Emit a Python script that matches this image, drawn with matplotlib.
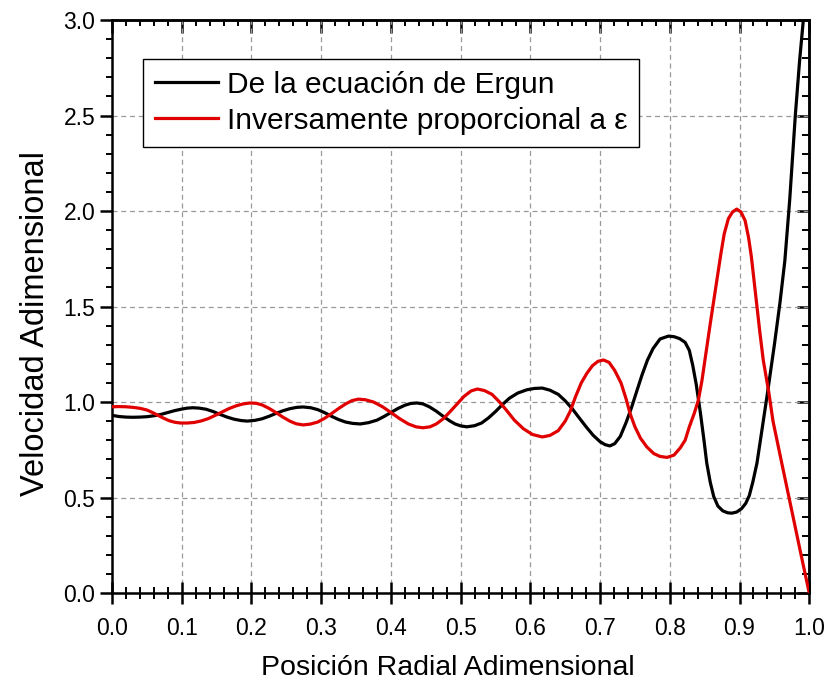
import numpy as np
import matplotlib
matplotlib.use("Agg")
import matplotlib.pyplot as plt
from matplotlib.ticker import MultipleLocator, FormatStrFormatter

plt.rcParams['font.family'] = ['Liberation Sans', 'DejaVu Sans']

# Ergun curve
x_ergun = [0.000, 0.010, 0.020, 0.030, 0.040, 0.050, 0.060, 0.070, 0.080, 0.090,
           0.100, 0.108, 0.116, 0.125, 0.135, 0.145, 0.155, 0.165, 0.175, 0.185,
           0.194, 0.205, 0.215, 0.225, 0.235, 0.245, 0.255, 0.265, 0.274, 0.285,
           0.295, 0.305, 0.315, 0.325, 0.335, 0.345, 0.356, 0.368, 0.380, 0.390,
           0.400, 0.410, 0.420, 0.428, 0.437, 0.446, 0.455, 0.465, 0.475, 0.484,
           0.492, 0.500, 0.509, 0.520, 0.530, 0.540, 0.550, 0.560, 0.570, 0.582,
           0.595, 0.606, 0.617, 0.628, 0.640, 0.650, 0.660, 0.670, 0.680, 0.690,
           0.700, 0.707, 0.714, 0.721, 0.729, 0.737, 0.745, 0.752, 0.760, 0.768,
           0.776, 0.786, 0.798, 0.806, 0.814, 0.822, 0.828, 0.833, 0.838, 0.844,
           0.849, 0.853, 0.858, 0.863, 0.869, 0.876, 0.883, 0.889, 0.896, 0.903,
           0.909, 0.914, 0.919, 0.925, 0.932, 0.940, 0.950, 0.958, 0.965, 0.972,
           0.980, 0.986, 0.992, 1.000]
y_ergun = [0.930, 0.924, 0.921, 0.920, 0.921, 0.923, 0.928, 0.935, 0.945, 0.955,
           0.963, 0.968, 0.970, 0.968, 0.962, 0.950, 0.935, 0.921, 0.910, 0.903,
           0.900, 0.904, 0.912, 0.925, 0.940, 0.954, 0.965, 0.972, 0.974, 0.970,
           0.960, 0.944, 0.925, 0.908, 0.895, 0.888, 0.885, 0.892, 0.905, 0.924,
           0.945, 0.966, 0.983, 0.992, 0.995, 0.990, 0.975, 0.952, 0.925, 0.902,
           0.885, 0.875, 0.870, 0.876, 0.890, 0.917, 0.950, 0.987, 1.020, 1.047,
           1.064, 1.071, 1.073, 1.062, 1.040, 1.006, 0.965, 0.917, 0.870, 0.826,
           0.792, 0.777, 0.770, 0.782, 0.820, 0.890, 0.970, 1.050, 1.140, 1.220,
           1.280, 1.330, 1.345, 1.342, 1.332, 1.312, 1.270, 1.190, 1.090, 0.940,
           0.800, 0.680, 0.580, 0.505, 0.455, 0.430, 0.420, 0.418, 0.424, 0.442,
           0.470, 0.510, 0.580, 0.680, 0.850, 1.045, 1.300, 1.520, 1.740, 2.060,
           2.500, 2.780, 3.020, 3.400]

# inversely proportional to porosity
x_inv = [0.000, 0.010, 0.020, 0.030, 0.040, 0.050, 0.058, 0.066, 0.074, 0.082,
         0.090, 0.098, 0.108, 0.118, 0.128, 0.138, 0.148, 0.158, 0.168, 0.178,
         0.188, 0.198, 0.207, 0.215, 0.225, 0.235, 0.245, 0.255, 0.264, 0.274,
         0.284, 0.295, 0.305, 0.315, 0.325, 0.335, 0.344, 0.353, 0.363, 0.375,
         0.388, 0.400, 0.412, 0.425, 0.436, 0.446, 0.456, 0.465, 0.475, 0.485,
         0.495, 0.505, 0.515, 0.524, 0.534, 0.545, 0.555, 0.565, 0.577, 0.590,
         0.603, 0.617, 0.628, 0.640, 0.650, 0.657, 0.665, 0.673, 0.681, 0.689,
         0.697, 0.705, 0.713, 0.721, 0.730, 0.737, 0.743, 0.750, 0.758, 0.767,
         0.777, 0.786, 0.796, 0.806, 0.815, 0.822, 0.828, 0.835, 0.841, 0.846,
         0.852, 0.858, 0.863, 0.868, 0.873, 0.878, 0.884, 0.890, 0.896, 0.902,
         0.908, 0.913, 0.917, 0.921, 0.925, 0.929, 0.934, 0.942, 0.948, 0.960,
         0.975, 0.990, 1.000]
y_inv = [0.975, 0.976, 0.975, 0.972, 0.967, 0.958, 0.945, 0.930, 0.915, 0.902,
         0.894, 0.890, 0.890, 0.893, 0.901, 0.913, 0.930, 0.948, 0.966, 0.980,
         0.990, 0.995, 0.993, 0.985, 0.967, 0.945, 0.921, 0.900, 0.886, 0.880,
         0.884, 0.895, 0.915, 0.940, 0.966, 0.990, 1.007, 1.015, 1.012, 1.000,
         0.975, 0.945, 0.914, 0.885, 0.870, 0.865, 0.870, 0.885, 0.912, 0.950,
         0.990, 1.030, 1.058, 1.068, 1.060, 1.040, 1.003, 0.960, 0.905, 0.860,
         0.830, 0.817, 0.825, 0.850, 0.900, 0.950, 1.030, 1.100, 1.150, 1.190,
         1.213, 1.220, 1.207, 1.165, 1.100, 1.020, 0.940, 0.870, 0.810, 0.765,
         0.730, 0.715, 0.710, 0.722, 0.760, 0.800, 0.870, 0.940, 1.010, 1.110,
         1.260, 1.410, 1.530, 1.650, 1.770, 1.880, 1.960, 1.995, 2.010, 1.995,
         1.950, 1.860, 1.760, 1.630, 1.500, 1.370, 1.220, 1.050, 0.900, 0.690,
         0.430, 0.170, 0.000]

fig = plt.figure(figsize=(8.3, 6.85), dpi=100)
ax = fig.add_axes([0.135, 0.1343, 0.840, 0.8365])

ax.plot(x_ergun, y_ergun, color='black', lw=2.3, label='De la ecuación de Ergun',
        zorder=3, solid_joinstyle='round')
ax.plot(x_inv, y_inv, color='#e00000', lw=2.3, label='Inversamente proporcional a ε',
        zorder=3, solid_joinstyle='round')

ax.set_xlim(0, 1.0)
ax.set_ylim(0, 3.0)
ax.xaxis.set_major_locator(MultipleLocator(0.1))
ax.xaxis.set_minor_locator(MultipleLocator(0.02))
ax.yaxis.set_major_locator(MultipleLocator(0.5))
ax.yaxis.set_minor_locator(MultipleLocator(0.1))
ax.xaxis.set_major_formatter(FormatStrFormatter('%.1f'))
ax.yaxis.set_major_formatter(FormatStrFormatter('%.1f'))

ax.grid(True, which='major', color='#999999', ls=(0, (4, 3)), lw=0.9, zorder=0)

for s in ax.spines.values():
    s.set_linewidth(1.8)

ax.tick_params(axis='x', which='major', direction='inout', length=16, width=1.8, labelsize=16.5, pad=9)
ax.tick_params(axis='x', which='minor', direction='inout', length=8.5, width=1.4)
ax.tick_params(axis='y', which='major', direction='out', length=9, width=1.8, labelsize=16.5, pad=3)
ax.tick_params(axis='y', which='minor', direction='out', length=4, width=1.4)

top = ax.secondary_xaxis('top')
top.xaxis.set_major_locator(MultipleLocator(0.1))
top.xaxis.set_minor_locator(MultipleLocator(0.02))
top.tick_params(which='major', direction='in', length=9, width=1.8, labeltop=False)
top.tick_params(which='minor', direction='in', length=4.5, width=1.4)
top.spines['top'].set_linewidth(1.8)

right = ax.secondary_yaxis('right')
right.yaxis.set_major_locator(MultipleLocator(0.5))
right.yaxis.set_minor_locator(MultipleLocator(0.1))
right.tick_params(which='major', direction='in', length=9, width=1.8, labelright=False)
right.tick_params(which='minor', direction='in', length=5, width=1.4)
right.spines['right'].set_linewidth(1.8)

ax.set_xlabel('Posición Radial Adimensional', fontsize=20.5, va='center')
ax.set_ylabel('Velocidad Adimensional', fontsize=23.5, va='center')
ax.xaxis.set_label_coords(0.482, -0.131)
ax.yaxis.set_label_coords(-0.11, 0.471)

leg = ax.legend(loc='upper left', bbox_to_anchor=(0.0445, 0.932), borderaxespad=0,
                fontsize=21.5, handlelength=2.1, handletextpad=0.3, labelspacing=0.26,
                borderpad=0.4, fancybox=False, framealpha=1, edgecolor='black')
leg.get_frame().set_linewidth(1.0)

fig.savefig('out.png', dpi=100)
